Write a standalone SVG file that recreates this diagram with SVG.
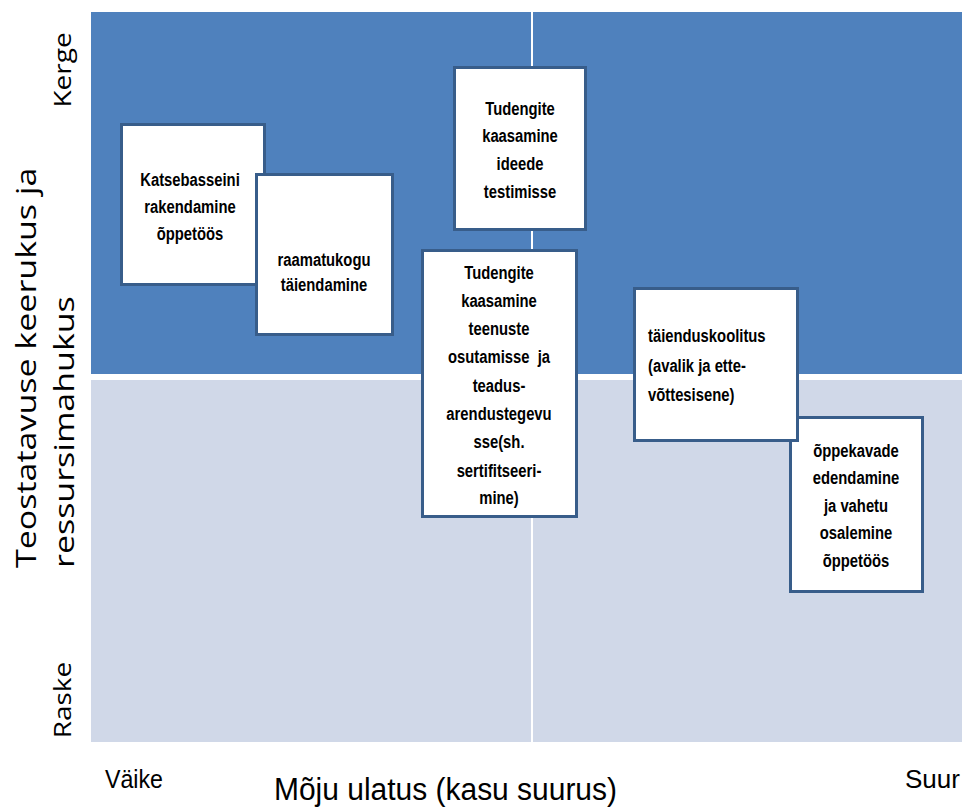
<svg xmlns="http://www.w3.org/2000/svg" width="962" height="807" viewBox="0 0 962 807">
<style>
.box{fill:#ffffff;stroke:#385d8a;stroke-width:3}
.bt{font-family:"Liberation Sans","Arial",sans-serif;font-weight:bold;font-size:19px;fill:#000;text-anchor:middle}
.bs{font-family:"Liberation Sans","Arial",sans-serif;font-weight:bold;font-size:19px;fill:#000;text-anchor:start}
.ax{font-family:"Open Sans","DejaVu Sans",sans-serif;fill:#000}
.bl{font-family:"Liberation Sans","Arial",sans-serif;fill:#000}
</style>
<rect width="962" height="807" fill="#ffffff"/>
<g id="quadrants">
<rect x="91" y="12" width="871" height="362" fill="#4f81bd"/>
<rect x="91" y="380" width="871" height="362" fill="#d0d8e8"/>
<line x1="532" y1="12" x2="532" y2="742" stroke="#ffffff" stroke-width="2"/>
</g>
<g id="axis-labels">
<text class="ax" font-size="28" text-anchor="middle" transform="translate(71,70) rotate(-90) scale(1,0.82)">Kerge</text>
<text class="ax" font-size="28" text-anchor="middle" transform="translate(71,700) rotate(-90) scale(1,0.82)">Raske</text>
<text class="ax" font-size="34" transform="translate(36,568) rotate(-90) scale(1,0.82)">Teostatavuse keerukus ja</text>
<text class="ax" font-size="34" transform="translate(74,568) rotate(-90) scale(1,0.82)">ressursimahukus</text>
<text class="bl" font-size="25" x="105" y="788" textLength="58" lengthAdjust="spacingAndGlyphs">Väike</text>
<text class="bl" font-size="31" x="274" y="800" textLength="343" lengthAdjust="spacingAndGlyphs">Mõju ulatus (kasu suurus)</text>
<text class="bl" font-size="25" x="905" y="788" textLength="55" lengthAdjust="spacingAndGlyphs">Suur</text>
</g>
<g id="connectors"></g>
<g id="n1">
<rect class="box" x="121.5" y="124.5" width="143" height="160"/>
<g transform="translate(190,0) scale(0.78,1)">
<text class="bt" x="0" y="186">Katsebasseini</text>
<text class="bt" x="0" y="213">rakendamine</text>
<text class="bt" x="0" y="240">õppetöös</text>
</g>
</g>
<g id="n2">
<rect class="box" x="256.5" y="174.5" width="136" height="160"/>
<g transform="translate(324,0) scale(0.78,1)">
<text class="bt" x="0" y="266">raamatukogu</text>
<text class="bt" x="0" y="291">täiendamine</text>
</g>
</g>
<g id="n3">
<rect class="box" x="454.5" y="67.5" width="131" height="162"/>
<g transform="translate(520,0) scale(0.78,1)">
<text class="bt" x="0" y="115">Tudengite</text>
<text class="bt" x="0" y="142">kaasamine</text>
<text class="bt" x="0" y="170">ideede</text>
<text class="bt" x="0" y="198">testimisse</text>
</g>
</g>
<g id="n4">
<rect class="box" x="422.5" y="250.5" width="154" height="266"/>
<g transform="translate(499,0) scale(0.78,1)">
<text class="bt" x="0" y="279">Tudengite</text>
<text class="bt" x="0" y="307">kaasamine</text>
<text class="bt" x="0" y="335">teenuste</text>
<text class="bt" x="0" y="363" xml:space="preserve">osutamisse  ja</text>
<text class="bt" x="0" y="392">teadus-</text>
<text class="bt" x="0" y="420">arendustegevu</text>
<text class="bt" x="0" y="448">sse(sh.</text>
<text class="bt" x="0" y="477">sertifitseeri-</text>
<text class="bt" x="0" y="504">mine)</text>
</g>
</g>
<g id="n6">
<rect class="box" x="790.5" y="417.5" width="132" height="174"/>
<g transform="translate(856,0) scale(0.78,1)">
<text class="bt" x="0" y="457">õppekavade</text>
<text class="bt" x="0" y="484">edendamine</text>
<text class="bt" x="0" y="512">ja vahetu</text>
<text class="bt" x="0" y="539">osalemine</text>
<text class="bt" x="0" y="567">õppetöös</text>
</g>
</g>
<g id="n5">
<rect class="box" x="634.5" y="288.5" width="163" height="152"/>
<g transform="translate(648,0) scale(0.78,1)">
<text class="bs" x="0" y="342">täienduskoolitus</text>
<text class="bs" x="0" y="372">(avalik ja ette-</text>
<text class="bs" x="0" y="401">võttesisene)</text>
</g>
</g>
</svg>
